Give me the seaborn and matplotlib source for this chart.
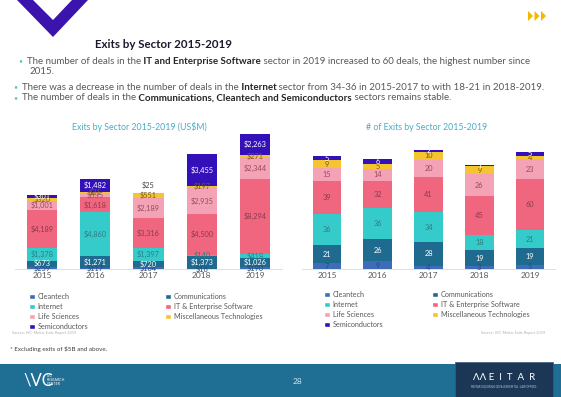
import numpy as np
import pandas as pd
import matplotlib
matplotlib.use("Agg")
import matplotlib.pyplot as plt
import seaborn as sns
from matplotlib.patches import Polygon, Rectangle, Patch

# DATA
years = ["2015", "2016", "2017", "2018", "2019"]
sectors = ["Cleantech", "Communications", "Internet", "IT & Enterprise Software",
           "Life Sciences", "Miscellaneous Technologies", "Semiconductors"]

# exits value in US$M, bottom -> top of each bar
cleantech_usd = [259, 117, 184, 16, 190]
communications_usd = [673, 1271, 720, 1373, 1026]
internet_usd = [1378, 4860, 1397, 140, 418]
it_software_usd = [4189, 1618, 3316, 4500, 8294]
life_sciences_usd = [1001, 535, 2189, 2935, 2344]
misc_tech_usd = [320, 21, 551, 197, 271]
semiconductors_usd = [301, 1482, 25, 3455, 2263]

# number of exits
cleantech_n = [7, 9, 4, 3, 5]
communications_n = [21, 26, 28, 19, 19]
internet_n = [36, 36, 34, 18, 21]
it_software_n = [39, 32, 41, 45, 60]
life_sciences_n = [15, 14, 20, 26, 23]
misc_tech_n = [9, 5, 10, 9, 4]
semiconductors_n = [5, 6, 2, 1, 5]

sector_colors = ["#3d6cb9", "#1f6b8f", "#36cbcb", "#f0667f",
                 "#f4a2b5", "#f5c431", "#3410b8"]
label_colors = ["#2a4a7a", "white", "#2d7d82", "#8c3a50",
                "#9a4b5d", "#7a5a1a", "white"]

W, H = 561, 397


def px(x, y):
    # pixel position (from top-left) -> figure fraction
    return x / W, 1 - y / H


sns.set_theme(style="white")
plt.rcParams['font.family'] = ['Lato', 'DejaVu Sans']
plt.rcParams['text.parse_math'] = False

fig = plt.figure(figsize=(W / 100, H / 100), dpi=100)
fig.patch.set_facecolor("white")


def stacked_chart(rect, layers, ylim, fmt, title, title_x, small_above=False):
    ax = fig.add_axes(rect)
    layers = np.array(layers)
    tops = np.cumsum(layers, axis=0)
    # draw cumulative totals from the top layer down so each one covers the rest
    for i in range(len(layers) - 1, -1, -1):
        d = pd.DataFrame({"year": years, "top": tops[i]})
        sns.barplot(data=d, x="year", y="top", color=sector_colors[i], saturation=1,
                    width=0.57, linewidth=0, errorbar=None, ax=ax)
    for i in range(len(layers)):
        for j in range(len(years)):
            v = layers[i][j]
            yc = tops[i][j] - v / 2
            va = "center"
            col = label_colors[i]
            if small_above and i == len(layers) - 1 and v < ylim * 0.01:
                yc = tops[i][j] + ylim * 0.025
                va = "bottom"
                col = "#404040"
            ax.text(j, yc, fmt(v), ha="center", va=va, fontsize=5.3, color=col)
    ax.set_ylim(0, ylim)
    ax.set_xlim(-0.5, 4.5)
    ax.set_xlabel("")
    ax.set_ylabel("")
    ax.set_yticks([])
    for s in ["top", "right", "left"]:
        ax.spines[s].set_visible(False)
    ax.spines["bottom"].set_color("#d9d9d9")
    ax.spines["bottom"].set_linewidth(0.6)
    ax.tick_params(axis="x", length=0, pad=2, labelsize=6, labelcolor="#595959")
    fig.text(*px(title_x, 127), title, ha="center", va="center",
             fontsize=6.3, color="#4bacc6")
    return ax


base = 269
top = 129
stacked_chart([15.4 / W, (H - base) / H, 266.2 / W, (base - top) / H],
              [cleantech_usd, communications_usd, internet_usd, it_software_usd,
               life_sciences_usd, misc_tech_usd, semiconductors_usd],
              15385, lambda v: f"${v:,}", "Exits by Sector 2015-2019 (US$M)", 139,
              small_above=True)
stacked_chart([301.6 / W, (H - base) / H, 253.8 / W, (base - top) / H],
              [cleantech_n, communications_n, internet_n, it_software_n,
               life_sciences_n, misc_tech_n, semiconductors_n],
              163.4, lambda v: f"{v}", "# of Exits by Sector 2015-2019", 427)

# legends, two columns each
handles = [Patch(facecolor=c) for c in sector_colors]
col1 = [0, 2, 4, 6]
col2 = [1, 3, 5]
leg_kw = dict(loc="upper left", frameon=False, fontsize=5.2, handlelength=0.8,
              handleheight=0.8, handletextpad=0.4, labelspacing=0.42,
              borderpad=0, borderaxespad=0, labelcolor="#595959")
for x0, y0, idx in [(29, 293, col1), (165, 293, col2), (324, 291, col1), (432, 291, col2)]:
    fig.legend([handles[k] for k in idx], [sectors[k] for k in idx],
               bbox_to_anchor=px(x0, y0), **leg_kw)

fig.text(*px(12, 333), "Source: IVC-Meitar Exits Report 2019", fontsize=2.8,
         color="#b0b0b0", va="center")
fig.text(*px(545, 333), "Source: IVC-Meitar Exits Report 2019", fontsize=2.8,
         color="#b0b0b0", va="center", ha="right")
fig.text(*px(10, 349), "* Excluding exits of $5B and above.", fontsize=4.5,
         color="#404040", va="center")

# header
fig.patches.append(Polygon([px(17, 0), px(53, 37), px(88, 0), px(72, 0), px(53, 20), px(33, 0)],
                           closed=True, transform=fig.transFigure,
                           facecolor="#3b13ad", edgecolor="none"))
for k in range(3):
    x0 = 528 + k * 6.5
    fig.patches.append(Polygon([px(x0, 11), px(x0 + 5, 16), px(x0, 21)], closed=True,
                               transform=fig.transFigure, facecolor="#f5b800",
                               edgecolor="none"))
fig.text(*px(95, 45), "Exits by Sector 2015-2019", fontsize=8.3, fontweight="bold",
         color="#1a1a2e", va="center")

renderer = fig.canvas.get_renderer()


def draw_runs(x, y, runs, size=7.0):
    for txt, bold in runs:
        t = fig.text(*px(x, y), txt, fontsize=size, va="center",
                     fontweight="bold" if bold else "normal",
                     color="#262626" if bold else "#595959")
        x += t.get_window_extent(renderer).width


bullets = [
    (27, 61, [("The number of deals in the", False), (" IT and Enterprise Software", True),
              (" sector in 2019 increased to 60 deals, the highest number since", False)]),
    (29, 71, [("2015.", False)]),
    (22, 87, [("There was a decrease in the number of deals in the", False), (" Internet", True),
              (" sector from 34-36 in 2015-2017 to with 18-21 in 2018-2019.", False)]),
    (22, 98, [("The number of deals in the", False),
              (" Communications, Cleantech and Semiconductors", True),
              (" sectors remains stable.", False)]),
]
for x0, y0, runs in bullets:
    if runs[0][0] != "2015.":
        fig.text(*px(x0 - 9, y0), "•", fontsize=5, color="#6cc3c3", va="center")
    draw_runs(x0, y0, runs)

# footer
fig.patches.append(Rectangle(px(0, 397), 1, 33 / H, transform=fig.transFigure,
                             facecolor="#1f6f95", edgecolor="none"))
fig.patches.append(Rectangle(px(455, 397), 98 / W, 35 / H, transform=fig.transFigure,
                             facecolor="#1c3656", edgecolor="#3c5a7a", linewidth=0.5))
fig.text(*px(298, 381), "28", fontsize=6, color="#d0e4ee", ha="center", va="center")
fig.text(*px(23, 380), "\\VC", fontsize=12, color="white", va="center")
fig.text(*px(47, 380), "IVC\nRESEARCH\nCENTER", fontsize=2.6, color="white",
         va="center", linespacing=1.1)
fig.text(*px(504, 377), "ΛΛ E  I  T  A  R", fontsize=7, color="white",
         ha="center", va="center")
fig.text(*px(504, 387), "MEITAR LIQUORNIK GEVA LESHEM TAL · LAW OFFICES", fontsize=1.8,
         color="#c0cbd8", ha="center", va="center")

fig.savefig("out.png", dpi=100)
